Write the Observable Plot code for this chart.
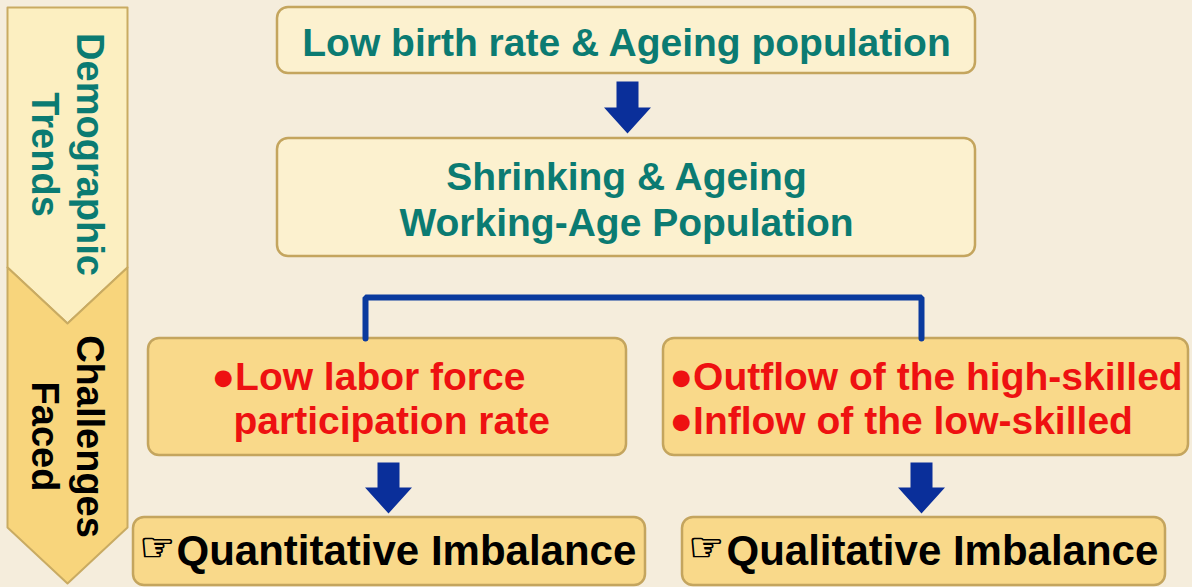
<!DOCTYPE html>
<html>
<head>
<meta charset="utf-8">
<script src="https://cdn.jsdelivr.net/npm/d3@7"></script>
<script src="https://cdn.jsdelivr.net/npm/@observablehq/plot@0.6"></script>
<style>
html,body{margin:0;padding:0;background:#f5eddc;overflow:hidden;}
</style>
</head>
<body>
<div id="chart"></div>
<script>
// ---- content ----
const stageLabels = ["Demographic\nTrends", "Challenges\nFaced"];
const trendLabels = [
  "Low birth rate & Ageing population",
  "Shrinking & Ageing\nWorking-Age Population"
];
const challengeLabels = [
  "●Low labor force",
  "participation rate",
  "●Outflow of the high-skilled\n●Inflow of the low-skilled"
];
const pointer = "☞";
const resultLabels = ["Quantitative Imbalance", "Qualitative Imbalance"];

// ---- layout (diagram geometry) ----
const W = 1192, H = 587;
const boxes = [
  {x1: 277, x2: 975, y1: 7,   y2: 73,  kind: "trend"},
  {x1: 277, x2: 975, y1: 138, y2: 256, kind: "trend"},
  {x1: 148, x2: 626, y1: 338, y2: 455, kind: "challenge"},
  {x1: 663, x2: 1188, y1: 338, y2: 455, kind: "challenge"},
  {x1: 133, x2: 645, y1: 517, y2: 585, kind: "challenge"},
  {x1: 682, x2: 1165, y1: 517, y2: 585, kind: "challenge"}
];
const fills = {trend: "#fcf1cf", challenge: "#f9d98a"};

const banner = [
  {id: "top", pts: [[7,7],[127,7],[127,267],[67,323],[7,267]], fill: "#fcefc1"},
  {id: "bottom", pts: [[7,267],[67,323],[127,267],[127,527],[67,583],[7,527]], fill: "#f8d57c"}
];
const bannerPts = banner.flatMap(b => b.pts.concat([b.pts[0]]).map(([x,y]) => ({x, y, id: b.id, fill: b.fill})));

// arrows: center x, top y, bottom y
const arrows = [
  {cx: 627, y1: 81, y2: 133},
  {cx: 388, y1: 462, y2: 513},
  {cx: 921, y1: 462, y2: 513}
];
function arrowPoly(a, i) {
  const sw = 11, hw = 23.5, hh = 26;
  const p = [
    [a.cx - sw, a.y1], [a.cx + sw, a.y1], [a.cx + sw, a.y2 - hh], [a.cx + hw, a.y2 - hh],
    [a.cx, a.y2], [a.cx - hw, a.y2 - hh], [a.cx - sw, a.y2 - hh], [a.cx - sw, a.y1]
  ];
  return p.map(([x,y]) => ({x, y, id: i}));
}
const arrowPts = arrows.flatMap(arrowPoly);

const bracket = [
  {x: 365, y: 338}, {x: 365, y: 297}, {x: 921, y: 297}, {x: 921, y: 338}
];

const trendTexts = [
  {x: 626, y: 41,  t: trendLabels[0]},
  {x: 626, y: 198, t: trendLabels[1]}
];
const challengeTexts = [
  {x: 211, y: 375, t: challengeLabels[0]},
  {x: 233, y: 419, t: challengeLabels[1]},
  {x: 669, y: 397, t: challengeLabels[2]}
];
const pointerTexts = [
  {x: 139, y: 548, t: pointer},
  {x: 688, y: 548, t: pointer}
];
const resultTexts = [
  {x: 176, y: 551, t: resultLabels[0]},
  {x: 726, y: 551, t: resultLabels[1]}
];
const stageTexts = [
  {x: 68, y: 154, t: stageLabels[0], fill: "#0b7b72"},
  {x: 68, y: 436, t: stageLabels[1], fill: "#000000"}
];

const font = "'Liberation Sans', Arial, sans-serif";

const plot = Plot.plot({
  width: W, height: H, margin: 0,
  x: {domain: [0, W], range: [0, W], axis: null},
  y: {domain: [0, H], range: [0, H], axis: null},
  style: {background: "#f5eddc", fontFamily: font},
  marks: [
    Plot.line(bannerPts, {x: "x", y: "y", z: "id", fill: d => d.fill, stroke: "#c9ab62", strokeWidth: 2, curve: "linear"}),
    Plot.rect(boxes, {x1: "x1", x2: "x2", y1: "y1", y2: "y2", rx: 11, fill: d => fills[d.kind], stroke: "#c4a55e", strokeWidth: 2.5}),
    Plot.line(bracket, {x: "x", y: "y", stroke: "#0a3a9e", strokeWidth: 6, strokeLinejoin: "miter"}),
    Plot.line(arrowPts, {x: "x", y: "y", z: "id", fill: "#0a2f9a", stroke: "none"}),
    Plot.text(trendTexts, {x: "x", y: "y", text: "t", fill: "#0b7b72", textAnchor: "middle", fontSize: 39, fontWeight: "bold", lineHeight: 1.16}),
    Plot.text(challengeTexts, {x: "x", y: "y", text: "t", fill: "#ee1111", textAnchor: "start", fontSize: 39, fontWeight: "bold", lineHeight: 1.13}),
    Plot.text(pointerTexts, {x: "x", y: "y", text: "t", fill: "#000000", stroke: "#000000", strokeWidth: 0.8, textAnchor: "start", fontSize: 40, fontWeight: "bold", fontFamily: "'DejaVu Sans', sans-serif"}),
    Plot.text(resultTexts, {x: "x", y: "y", text: "t", fill: "#000000", textAnchor: "start", fontSize: 42, fontWeight: "bold"}),
    Plot.text(stageTexts, {x: "x", y: "y", text: "t", fill: "fill", rotate: 90, fontSize: 38, fontWeight: "bold", lineHeight: 1.18})
  ]
});
document.getElementById("chart").appendChild(plot);
</script>
</body>
</html>
